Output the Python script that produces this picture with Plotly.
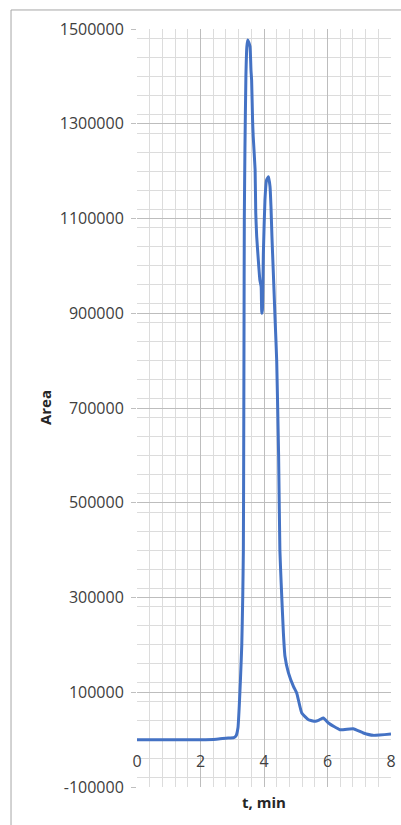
import plotly.graph_objects as go

t_min = [0.0, 0.5, 1.0, 1.5, 2.0, 2.5, 2.8, 3.05, 3.12, 3.18, 3.22, 3.26, 3.30, 3.33,
         3.35, 3.36, 3.37, 3.38, 3.40, 3.43, 3.46, 3.49, 3.52, 3.56, 3.59, 3.61, 3.64,
         3.66, 3.72, 3.74, 3.77, 3.82, 3.87, 3.91, 3.93, 3.95, 3.98, 4.03, 4.08, 4.14,
         4.19, 4.22, 4.25, 4.29, 4.35, 4.40, 4.46, 4.50, 4.54, 4.61, 4.66, 4.77, 4.93,
         5.03, 5.19, 5.40, 5.61, 5.75, 5.87, 6.03, 6.39, 6.81, 7.13, 7.44, 8.0]
area = [0, 0, 0, 0, 0, 1000, 3000, 4000, 8000, 25000, 70000, 130000, 200000, 300000,
        400000, 600000, 850000, 1100000, 1250000, 1400000, 1463000, 1477000, 1472000,
        1463000, 1413000, 1392000, 1308000, 1273000, 1203000, 1112000, 1062000, 1013000,
        970000, 956000, 900000, 907000, 1027000, 1139000, 1181000, 1188000, 1167000,
        1125000, 1062000, 992000, 886000, 800000, 600000, 400000, 331000, 226000, 176000,
        141000, 112000, 98500, 56000, 42000, 38600, 42000, 45700, 35000, 21000, 23000,
        14000, 9000, 12000]

x_ticks = [0, 2, 4, 6, 8]
y_ticks = [1500000, 1300000, 1100000, 900000, 700000, 500000, 300000, 100000, -100000]

fig = go.Figure()
fig.add_trace(go.Scatter(x=t_min, y=area, mode="lines",
                         line=dict(color="#4472C4", width=3, shape="spline", smoothing=0.4),
                         showlegend=False))

grid_major = "#bdbdbd"
grid_minor = "#dcdcdc"
tick_font = dict(family="Open Sans", size=16, color="#404040")
title_font = dict(family="Open Sans", size=15, color="#262626")

fig.update_layout(
    width=401, height=825,
    margin=dict(l=137, r=10, t=29, b=38),
    paper_bgcolor="white", plot_bgcolor="white",
    xaxis=dict(range=[0, 8], tickvals=x_ticks, ticktext=[str(v) for v in x_ticks],
               anchor="free", position=0.062, automargin=False,
               showgrid=True, gridcolor=grid_major, gridwidth=1,
               minor=dict(dtick=0.4, tick0=0, showgrid=True, gridcolor=grid_minor, gridwidth=1),
               ticks="outside", ticklen=7, tickcolor="rgba(0,0,0,0)",
               zeroline=False, showline=False, tickfont=tick_font),
    yaxis=dict(range=[-100000, 1500000], tickvals=y_ticks, ticktext=[str(v) for v in y_ticks],
               automargin=False,
               showgrid=True, gridcolor=grid_major, gridwidth=1,
               minor=dict(dtick=40000, tick0=0, showgrid=True, gridcolor=grid_minor, gridwidth=1),
               ticks="outside", ticklen=5, tickcolor="#bfbfbf",
               zeroline=False, showline=False, tickfont=tick_font,
               ticklabelstandoff=4),
    annotations=[
        dict(text="<b>Area</b>", x=-0.362, y=0.5, xref="paper", yref="paper",
             xanchor="center", yanchor="middle",
             textangle=-90, showarrow=False, font=title_font),
        dict(text="<b>t, min</b>", x=0.5, y=-0.02, xref="paper", yref="paper",
             xanchor="center", yanchor="middle", showarrow=False, font=title_font),
    ],
    shapes=[
        dict(type="line", xref="paper", yref="paper", x0=-0.496, x1=-0.496, y0=1.0251, y1=-0.06,
             line=dict(color="#a6a6a6", width=1)),
        dict(type="line", xref="paper", yref="paper", x0=-0.496, x1=1.05, y0=1.0251, y1=1.0251,
             line=dict(color="#a6a6a6", width=1)),
    ],
)

fig.write_html("out.html")
